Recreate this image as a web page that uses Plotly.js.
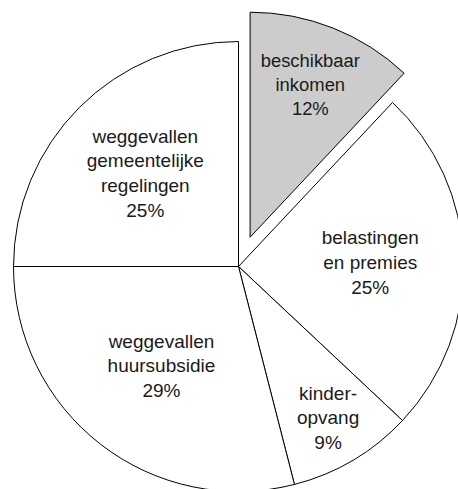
<!DOCTYPE html>
<html>
<head>
<meta charset="utf-8">
<script src="https://cdn.plot.ly/plotly-3.0.1.min.js"></script>
<style>
  html, body { margin: 0; padding: 0; width: 458px; height: 489px; overflow: hidden; background: #fff; }
  #chart { position: absolute; left: -18.5px; top: 9.5px; width: 513px; height: 513px; }
</style>
</head>
<body>
<div id="chart"></div>
<script>
const categories = [
  "beschikbaar<br>inkomen",
  "belastingen<br>en premies",
  "kinder-<br>opvang",
  "weggevallen<br>huursubsidie",
  "weggevallen<br>gemeentelijke<br>regelingen"
];
const shares = [12, 25, 9, 29, 25];
const pulls = [0.14, 0, 0, 0, 0];
const sliceColors = ["#cccccc", "#ffffff", "#ffffff", "#ffffff", "#ffffff"];

const trace = {
  type: "pie",
  labels: categories,
  values: shares,
  pull: pulls,
  sort: false,
  direction: "clockwise",
  rotation: 0,
  marker: { colors: sliceColors, line: { color: "#000000", width: 1 } },
  texttemplate: "%{label}<br>%{percent}",
  textposition: "inside",
  insidetextorientation: "horizontal",
  insidetextfont: { family: "Liberation Sans, Arial, sans-serif", size: 19, color: "#1a1a1a" },
  hoverinfo: "none",
  showlegend: false
};

Plotly.newPlot("chart", [trace], {
  width: 513,
  height: 513,
  margin: { l: 0, r: 0, t: 0, b: 0 },
  paper_bgcolor: "rgba(0,0,0,0)",
  plot_bgcolor: "rgba(0,0,0,0)",
  showlegend: false
}, { displayModeBar: false, staticPlot: true });
</script>
</body>
</html>
